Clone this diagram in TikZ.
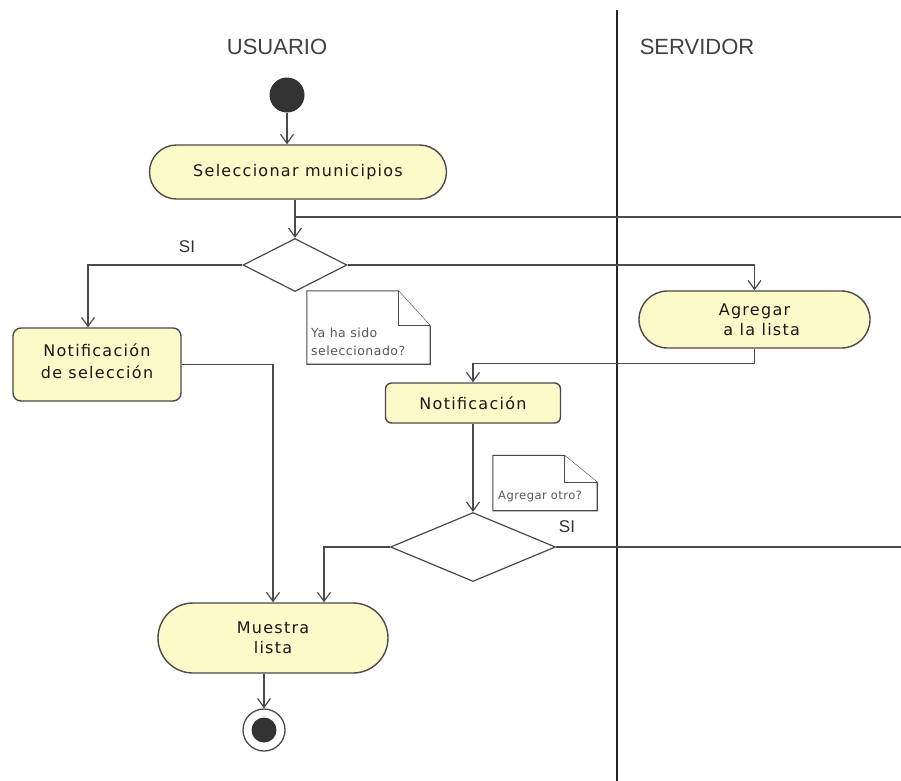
\documentclass[tikz,border=0pt]{standalone}
\usepackage{fontspec}
\setmainfont{DejaVu Sans}
\newfontfamily\actfont[LetterSpace=8]{DejaVu Sans}
\newfontfamily\notefont[LetterSpace=4]{DejaVu Sans}
\newfontfamily\lanefont{Liberation Sans}
\usetikzlibrary{shapes.geometric,shapes.misc,arrows.meta}
\definecolor{actfill}{HTML}{FCFAC8}
\definecolor{ln}{HTML}{4A4A4A}
\definecolor{dark}{HTML}{333333}
\begin{document}
\begin{tikzpicture}[x=1pt,y=-1pt,
  lane/.style={font=\lanefont\fontsize{22}{24}\selectfont, text=black!75, inner sep=0pt},
  lanel/.style={draw=black!85, line width=1.8pt},
  act/.style={rounded rectangle, draw=ln, fill=actfill, line width=1.4pt,
    font=\actfont\fontsize{16}{20}\selectfont, align=center, inner sep=0pt, text=black!90},
  box/.style={rectangle, rounded corners=8pt, draw=ln, fill=actfill, line width=1.4pt,
    font=\actfont\fontsize{16}{22}\selectfont, align=center, inner sep=0pt, text=black!90},
  dec/.style={diamond, draw=ln, fill=white, line width=1.2pt, inner sep=0pt},
  flow/.style={draw=ln, line width=1.2pt, -{Straight Barb[length=9pt,width=13pt]}},
  plain/.style={draw=ln, line width=1.2pt},
  notebox/.style={rectangle, inner sep=0pt},
  noteline/.style={draw=ln, line width=1.1pt, fill=white},
  notetext/.style={font=\notefont\fontsize{12.5}{18}\selectfont, text=black!65, align=left, inner sep=0pt},
  guard/.style={font=\lanefont\fontsize{17}{19}\selectfont, text=dark, inner sep=0pt},
  startnode/.style={circle, fill=dark, minimum size=35pt, inner sep=0pt},
  endouter/.style={circle, draw=ln, line width=1.3pt, fill=white, minimum size=42pt, inner sep=0pt},
  endinner/.style={circle, fill=dark, minimum size=25pt, inner sep=0pt}
]
\useasboundingbox (0,0) rectangle (901,780);

% swimlanes
\node[lane] (u) at (277,47) {USUARIO};
\node[lane] (s) at (697,47) {SERVIDOR};
\coordinate (lt) at (617,10);
\coordinate (lb) at (617,782);
\draw[lanel] (lt) -- (lb);

% nodes
\node[startnode] (st) at (287,95) {};
\node[act, minimum width=297pt, minimum height=54pt] (sel) at (298,172) {Seleccionar municipios};
\node[dec, minimum width=104pt, minimum height=53pt] (d1) at (295,265) {};
\node[box, minimum width=168pt, minimum height=73pt] (nsel) at (97,364.5) {Notificación\\de selección\\[-16pt]\mbox{}};
\node[act, minimum width=231pt, minimum height=57pt] (ag) at (754.5,319.5) {Agregar\\\hspace*{0.9em}a la lista};
\node[box, rounded corners=6pt, minimum width=175pt, minimum height=40pt] (no) at (473,403) {Notificación};
\node[dec, minimum width=165pt, minimum height=69pt] (d2) at (473,547) {};
\node[act, minimum width=230pt, minimum height=70pt] (mu) at (273,638) {Muestra\\lista};
\node[endouter] (en) at (264,730) {};
\node[endinner] (eni) at (en) {};

% guards
\node[guard] (si1) at (187,247) {SI};
\node[guard] (si2) at (567,527) {SI};

% notes
\node[notebox, minimum width=123pt, minimum height=73pt] (n1) at (368.5,327.5) {};
\draw[noteline] (n1.south west) -- (n1.north west) -- ([xshift=-32pt]n1.north east)
  -- ([yshift=-35pt]n1.north east) -- (n1.south east) -- cycle;
\draw[noteline] ([xshift=-32pt]n1.north east) -- ([xshift=-32pt,yshift=-35pt]n1.north east)
  -- ([yshift=-35pt]n1.north east);
\node[notetext, anchor=south west] (n1t) at (311,356) {Ya ha sido\\seleccionado?};

\node[notebox, minimum width=104pt, minimum height=55pt] (n2) at (545,483) {};
\draw[noteline] (n2.south west) -- (n2.north west) -- ([xshift=-33pt]n2.north east)
  -- ([yshift=-27pt]n2.north east) -- (n2.south east) -- cycle;
\draw[noteline] ([xshift=-33pt]n2.north east) -- ([xshift=-33pt,yshift=-27pt]n2.north east)
  -- ([yshift=-27pt]n2.north east);
\node[notetext, font=\notefont\fontsize{11.5}{13}\selectfont, anchor=south west] (n2t) at (498,502) {Agregar otro?};

% connectors
\draw[flow] (st.south) -- (st.south |- sel.north);
\draw[flow] (d1.north |- sel.south) -- (d1.north);
\draw[flow] (d1.west) -| ([xshift=-9pt]nsel.north);
\draw[flow] (d1.east) -| (ag.north);
\draw[flow] (nsel.east) -| (mu.north);
\draw[flow] (ag.south) -- ++(0,15) -| (no.north);
\draw[flow] (no.south) -- (d2.north);
\draw[flow] (d2.west) -| ([xshift=51pt]mu.north);
\coordinate (j) at (295,217);
\draw[plain] (d2.east) -- (906,547) |- (j);
\draw[flow] ([xshift=-9pt]mu.south) -- (en.north);
\end{tikzpicture}
\end{document}
